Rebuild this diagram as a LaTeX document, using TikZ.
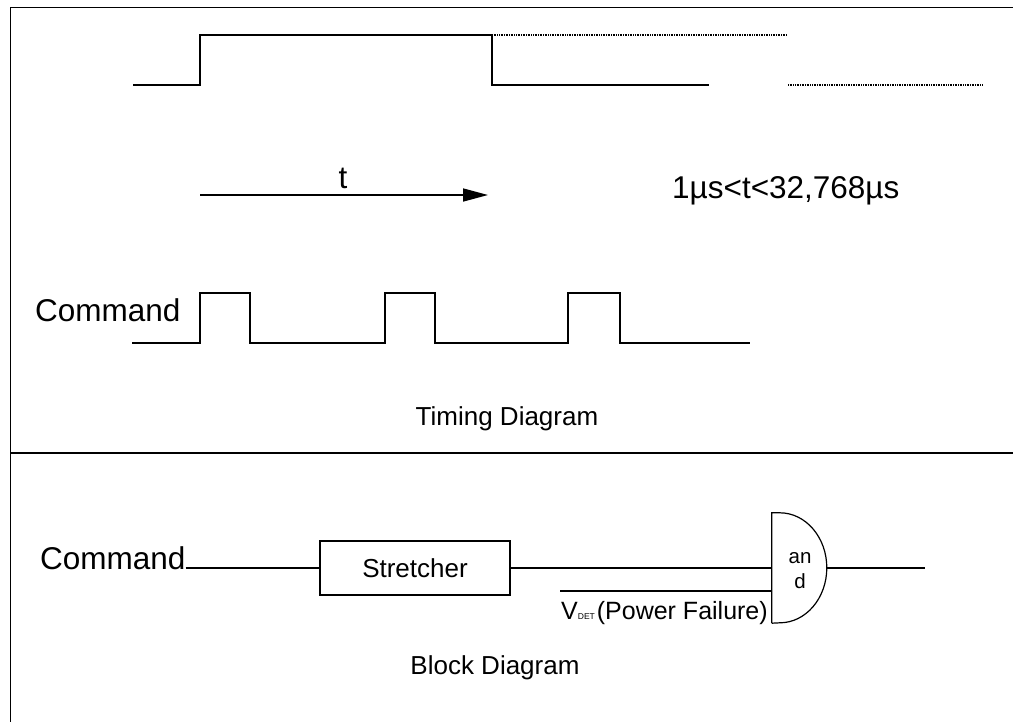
\documentclass[tikz,border=0pt]{standalone}
\usepackage{fontspec}
\setmainfont{Liberation Sans}
\usetikzlibrary{arrows.meta}
\begin{document}
\begin{tikzpicture}[x=1pt,y=-1pt,
  frame/.style={line width=1.8pt},
  wave/.style={line width=1.6pt},
  dotline/.style={line width=1.4pt, dash pattern=on 1pt off 0.7pt},
  wire/.style={line width=1.2pt},
  bigtext/.style={font=\fontsize{31.5}{36}\selectfont, inner sep=0pt},
  midtext/.style={font=\fontsize{26}{30}\selectfont, inner sep=0pt},
  smalltext/.style={font=\fontsize{20.5}{25}\selectfont, inner sep=0pt},
]
\useasboundingbox (0,0) rectangle (1013,721);
% frame
\draw[frame] (1014,7.5) -- (10.5,7.5) -- (10.5,722);
\draw[frame] (10.5,453) -- (1014,453);

% top waveform
\draw[wave] (133,85) -- (200,85) -- (200,35) -- (492,35) -- (492,85) -- (709,85);
\draw[dotline] (492,35) -- (787,35);
\draw[dotline] (788,85) -- (983,85);

% time arrow
\node[bigtext, anchor=base] (tlab) at (343,188) {t};
\coordinate (arrS) at (200,195);
\coordinate (arrE) at (488,195);
\draw[wave, -{Triangle[length=25pt,width=13pt]}] (arrS) -- (arrE);
\node[bigtext, anchor=base west] (range) at (672,198) {1µs<t<32,768µs};

% command pulses
\node[bigtext, anchor=base west] (cmd1) at (35,321) {Command};
\draw[wave] (132,343) -| (200,293) -| (250,343) -| (385,293) -| (435,343)
  -| (568,293) -| (620,343) -- (750,343);
\node[midtext, anchor=base] (tdiag) at (507,425) {Timing Diagram};

% block diagram
\node[bigtext, anchor=base west] (cmd2) at (40,569) {Command};
\node[draw, wire, midtext, minimum width=190pt, minimum height=54pt] (stretch) at (415,568) {Stretcher};
\node[minimum width=55pt, minimum height=110pt, inner sep=0pt] (gate) at (799.5,568) {};
\draw[wire] (gate.south west) -- (gate.north west) -- ++(8,0)
  arc[start angle=-90, end angle=90, x radius=47, y radius=55] -- (gate.south west);
\node[smalltext, anchor=base] (gateA) at (800,563) {an};
\node[smalltext, anchor=base] (gateB) at (800,588) {d};
\draw[wire] (cmd2.east |- stretch.west) -- (stretch.west);
\draw[wire] (stretch.east) -- (gate.west);
\coordinate (vdS) at (560,591);
\draw[line width=1.6pt] (vdS) -- (gate.west |- vdS);
\coordinate (outE) at (925,568);
\draw[wire] (gate.east) -- (outE);
\node[font=\fontsize{25}{30}\selectfont, inner sep=0pt, anchor=base west] (vdet) at (561,619)
  {V{\fontsize{8.5}{10}\selectfont DET}\kern2pt(Power Failure)};
\node[midtext, anchor=base] (bdiag) at (495,674) {Block Diagram};
\end{tikzpicture}
\end{document}
